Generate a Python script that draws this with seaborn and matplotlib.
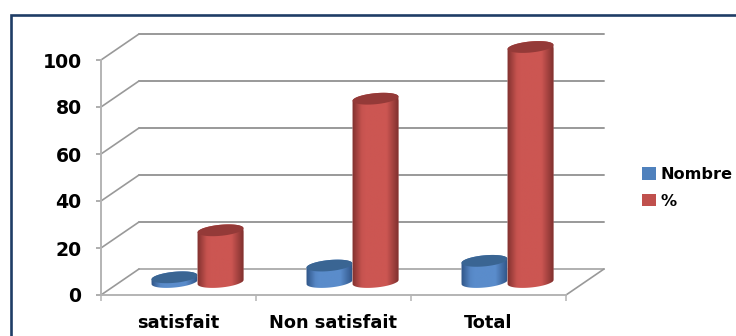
import numpy as np
import pandas as pd
import matplotlib
matplotlib.use("Agg")
import matplotlib.pyplot as plt
from matplotlib.patches import Polygon, Rectangle, Patch
from matplotlib.transforms import Affine2D, IdentityTransform
from matplotlib.colors import LinearSegmentedColormap
import seaborn as sns

categories = ["satisfait", "Non satisfait", "Total"]
series_names = ["Nombre", "%"]
nombre = [2, 7, 9]
pourcent = [22, 78, 100]
y_ticks = [0, 20, 40, 60, 80, 100]
face_colors = ["#4F81BD", "#C0504D"]
top_colors = ["#3A6593", "#943A38"]
edge_colors = ["#2F5486", "#7F302E"]
mid_colors = ["#5A8CCB", "#CC5652"]

sns.set_style("white")
plt.rcParams["font.family"] = ["DejaVu Sans"]
plt.rcParams["font.weight"] = "bold"

W, H = 736, 336
fig = plt.figure(figsize=(W / 100, H / 100), dpi=100, facecolor="white")
ax = fig.add_axes([101 / W, (H - 295) / H, 465 / W, 235 / H])
ax.patch.set_alpha(0)

df = pd.DataFrame({
    "cat": categories * 2,
    "serie": [series_names[0]] * 3 + [series_names[1]] * 3,
    "val": nombre + pourcent,
})
sns.barplot(data=df, x="cat", y="val", hue="serie", palette=face_colors,
            width=0.594, gap=0, dodge=True, legend=False, ax=ax, zorder=5)

ax.set_xlim(-0.5, 2.5)
ax.set_ylim(0, 100)
ax.set_xlabel("")
ax.set_ylabel("")

GRID = "#999999"
AXIS = "#B4B4B4"
back_dx, back_dy = 38, 26
mid_dx, mid_dy = 19, 13
back = ax.transData + Affine2D().translate(back_dx, back_dy)
mid = ax.transData + Affine2D().translate(mid_dx, mid_dy)
data_dx = back_dx / (465 / 3)
data_dy = back_dy / (235 / 100)

# back wall gridlines and the side wall slants
for v in y_ticks:
    ax.plot([-0.5, 2.5], [v, v], transform=back, color=GRID if v else "#B0B0B0",
            lw=1.4, clip_on=False, zorder=1)
    ax.plot([-0.5, -0.5 + data_dx], [v, v + data_dy], color=GRID, lw=1.2,
            clip_on=False, zorder=1)
ax.plot([2.5, 2.5 + data_dx], [0, data_dy], color=GRID, lw=1.2, clip_on=False, zorder=1)

# axes styling
for s in ["top", "right"]:
    ax.spines[s].set_visible(False)
for s in ["left", "bottom"]:
    ax.spines[s].set_color(AXIS)
    ax.spines[s].set_linewidth(1.4)
ax.set_yticks(y_ticks)
ax.set_xticks([0, 1, 2], categories)
ax.set_xticks([-0.5, 0.5, 1.5, 2.5], minor=True)
ax.tick_params(axis="y", length=3.5, width=1.1, color=GRID, left=True, pad=10.5,
               labelsize=13.6, labelcolor="black")
ax.tick_params(axis="x", which="major", length=0, pad=14, labelsize=12.8, labelcolor="black")
ax.tick_params(axis="x", which="minor", length=4, width=1.1, color=AXIS, bottom=True)


def ring(cx, cy, a, b, theta, t0, t1, n=60):
    t = np.linspace(t0, t1, n)
    return np.column_stack([
        cx + a * np.cos(t) * np.cos(theta) - b * np.sin(t) * np.sin(theta),
        cy + a * np.cos(t) * np.sin(theta) + b * np.sin(t) * np.cos(theta),
    ])


fig.canvas.draw()
theta = np.radians(5.5)
minor_axis = 5.5
z = 5
for container, top_c, edge_c, mid_c in zip(ax.containers, top_colors, edge_colors, mid_colors):
    cmap = LinearSegmentedColormap.from_list(
        "cyl", [edge_c, mid_c, mid_c, edge_c], 256)
    for bar in container:
        x0, w, h = bar.get_x(), bar.get_width(), bar.get_height()
        (px0, py0) = mid.transform((x0, 0))
        (px1, py1) = mid.transform((x0 + w, h))
        cx, a = (px0 + px1) / 2, (px1 - px0) / 2
        body_pts = np.vstack([
            ring(cx, py0, a, minor_axis, theta, np.pi, 2 * np.pi),
            ring(cx, py1, a, minor_axis, theta, 0, np.pi),
        ])
        poly = Polygon(body_pts, closed=True, transform=IdentityTransform(),
                       fc="none", ec="none", zorder=z)
        ax.add_patch(poly)
        poly.set_clip_on(False)

        bar.set_transform(mid)
        bar.set_zorder(z)
        bar.set_clip_box(fig.bbox)
        bar.set_clip_path(poly)

        grad = np.interp(np.linspace(0, 1, 128), [0, 0.2, 0.5, 0.7, 1.0],
                         [0.0, 0.3, 0.42, 0.62, 1.0])[None, :]
        im = ax.imshow(grad, cmap=cmap, vmin=0, vmax=1, aspect="auto", interpolation="bilinear",
                       extent=(px0, px1, py0 - 12, py1 + 12),
                       transform=IdentityTransform(), zorder=z + 0.1)
        im.set_clip_box(fig.bbox)
        im.set_clip_path(poly)

        top = Polygon(ring(cx, py1, a, minor_axis, theta, 0, 2 * np.pi), closed=True,
                      transform=IdentityTransform(), fc=top_c, ec="none",
                      zorder=z + 0.2, clip_on=False)
        ax.add_patch(top)
        z += 1

ax.set_xlim(-0.5, 2.5)
ax.set_ylim(0, 100)
ax.set_aspect("auto")

# legend
handles = [Patch(facecolor=c, edgecolor="none", label=n) for c, n in zip(face_colors, series_names)]
fig.legend(handles=handles, loc="center left", bbox_to_anchor=(627 / W, (H - 188) / H),
           frameon=False, fontsize=11.6, handlelength=0.87, handleheight=0.8,
           handletextpad=0.32, labelspacing=0.72, borderpad=0.4, labelcolor="black")

# outer frame, running past the right and bottom edges of the picture
frame = Rectangle((11, -40), 800, H - 15 + 40, transform=IdentityTransform(), fill=False,
                  ec="#1F3D66", lw=1.9)
fig.add_artist(frame)

fig.savefig("out.png", dpi=100, facecolor="white")
